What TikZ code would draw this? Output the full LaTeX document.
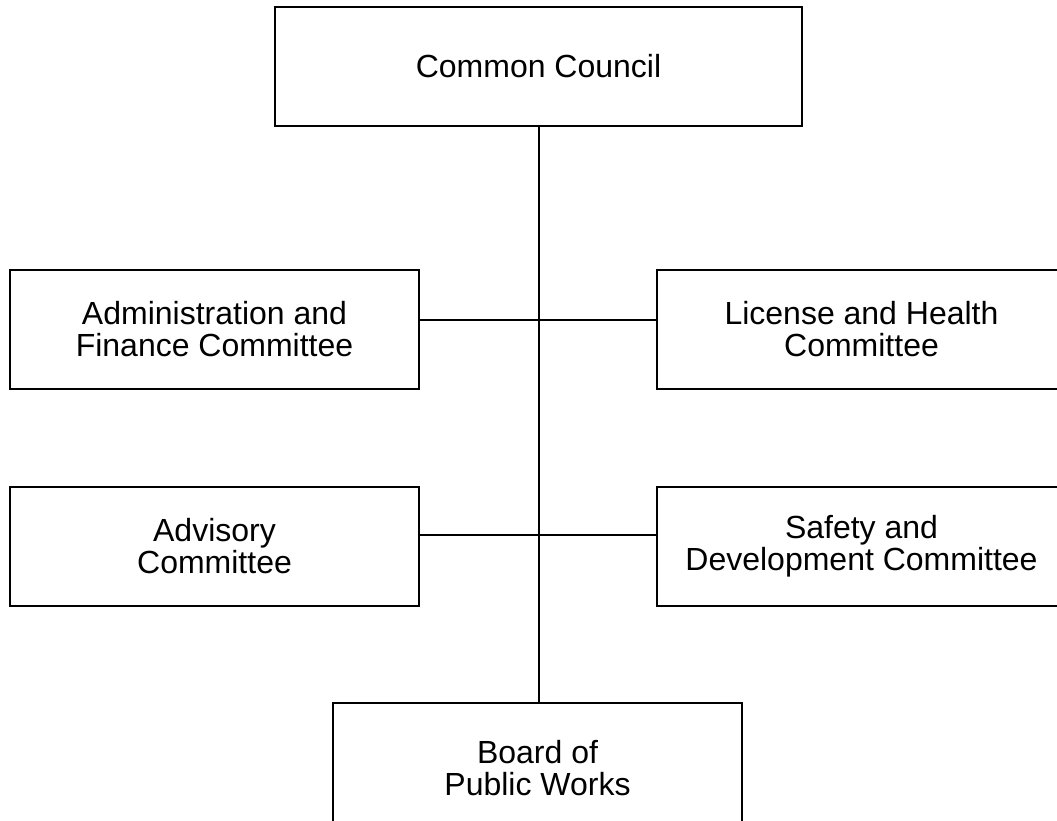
\documentclass[tikz,border=0pt]{standalone}
\usepackage{fontspec}
\setmainfont{Liberation Sans}
\usepackage{tikz}

\begin{document}
\begin{tikzpicture}[x=1pt, y=-1pt,
        unitbox/.style={draw, line width=2pt, minimum width=409pt, minimum height=119pt, align=center, inner sep=0pt, font=\fontsize{32}{32}\selectfont},
        link/.style={line width=2pt}]
        \useasboundingbox (0,0) rectangle (1057,820);
        \clip (0,0) rectangle (1057,820);

        \node[unitbox, minimum width=527pt] (council) at (538.5,66.5) {Common Council};
        \node[unitbox] (admin) at (214.5,329.5) {Administration and\\Finance Committee};
        \node[unitbox] (license) at (861.5,329.5) {License and Health\\Committee};
        \node[unitbox] (advisory) at (214.5,546.5) {Advisory\\Committee};
        \node[unitbox] (safety) at (861.5,546.5) {Safety and\\Development Committee};
        \node[unitbox, minimum height=130pt] (board) at (537.5,768) {Board of\\Public Works};

        \path[link] ([xshift=0.5pt]council.south) edge ([xshift=1.5pt]board.north);
        \path[link] ([yshift=9.5pt]admin.east) edge ([yshift=9.5pt]license.west);
        \path[link] ([yshift=11.5pt]advisory.east) edge ([yshift=11.5pt]safety.west);
    \end{tikzpicture}
\end{document}
